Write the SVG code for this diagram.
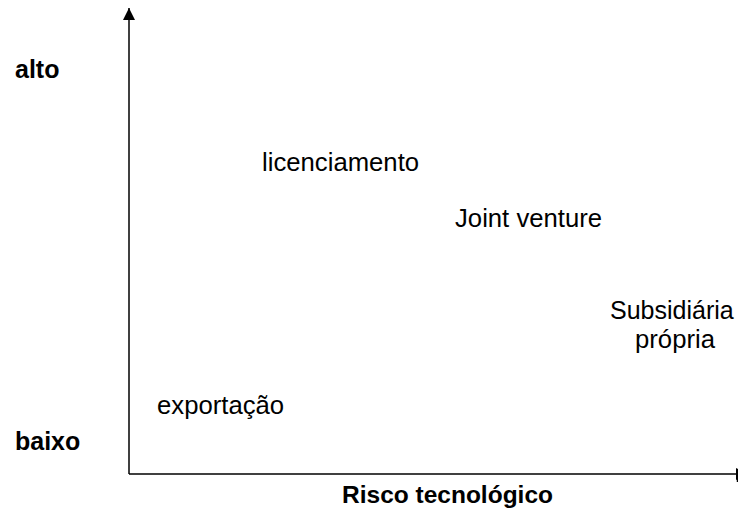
<svg xmlns="http://www.w3.org/2000/svg" width="738" height="513" viewBox="0 0 738 513">
<style>
text{font-family:"Liberation Sans",Arial,sans-serif;font-size:25.7px;fill:#000}
.b{font-weight:bold}
.ax{stroke:#000;stroke-width:1.5;fill:none}
</style>
<defs>
<marker id="ah" viewBox="0 0 12 12" refX="12" refY="6" markerWidth="12" markerHeight="12" markerUnits="userSpaceOnUse" orient="auto">
<path d="M0,0 L12,6 L0,12 Z" fill="#000"/>
</marker>
</defs>
<rect width="738" height="513" fill="#fff"/>
<g id="connectors">
<line class="ax" x1="129" y1="474" x2="129" y2="8" marker-end="url(#ah)"/>
<line class="ax" x1="129" y1="474" x2="748" y2="474" marker-end="url(#ah)"/>
<line class="ax" x1="737.5" y1="469" x2="737.5" y2="482"/>
</g>
<g id="labels">
<text class="b" x="15" y="78" style="font-size:25px">alto</text>
<text class="b" x="15" y="450" style="font-size:25px">baixo</text>
<text class="b" x="342" y="503" style="font-size:24.5px">Risco tecnológico</text>
</g>
<g id="licenciamento"><text x="262" y="171">licenciamento</text></g>
<g id="joint-venture"><text x="455" y="227">Joint venture</text></g>
<g id="subsidiaria"><text x="610" y="319" style="font-size:25px">Subsidiária</text><text x="675" y="348" text-anchor="middle">própria</text></g>
<g id="exportacao"><text x="157" y="414">exportação</text></g>
</svg>
